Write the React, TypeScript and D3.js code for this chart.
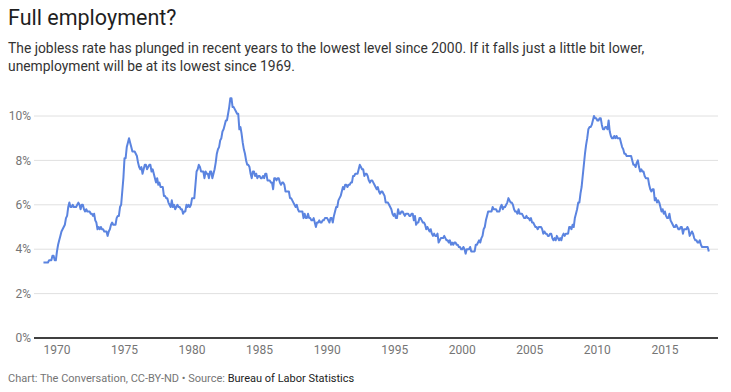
import React from "react";
import * as d3 from "d3";

const startYear = 1969;
// Monthly unemployment rate (%), Jan 1969 – Apr 2018
const rates: number[] = [
  // 1969
  3.4, 3.4, 3.4, 3.4, 3.4, 3.5, 3.5, 3.5, 3.7, 3.7, 3.5, 3.5,
  // 1970
  3.9, 4.2, 4.4, 4.6, 4.8, 4.9, 5.0, 5.1, 5.4, 5.5, 5.9, 6.1,
  // 1971
  5.9, 5.9, 6.0, 5.9, 5.9, 5.9, 6.0, 6.1, 6.0, 5.8, 6.0, 6.0,
  // 1972
  5.8, 5.7, 5.8, 5.7, 5.7, 5.7, 5.6, 5.6, 5.5, 5.6, 5.3, 5.2,
  // 1973
  4.9, 5.0, 4.9, 5.0, 4.9, 4.9, 4.8, 4.8, 4.8, 4.6, 4.8, 4.9,
  // 1974
  5.1, 5.2, 5.1, 5.1, 5.1, 5.4, 5.5, 5.5, 5.9, 6.0, 6.6, 7.2,
  // 1975
  8.1, 8.1, 8.6, 8.8, 9.0, 8.8, 8.6, 8.4, 8.4, 8.4, 8.3, 8.2,
  // 1976
  7.9, 7.7, 7.6, 7.7, 7.4, 7.6, 7.8, 7.8, 7.6, 7.7, 7.8, 7.8,
  // 1977
  7.5, 7.6, 7.4, 7.2, 7.0, 7.2, 6.9, 7.0, 6.8, 6.8, 6.8, 6.4,
  // 1978
  6.4, 6.3, 6.3, 6.1, 6.0, 5.9, 6.2, 5.9, 6.0, 5.8, 5.9, 6.0,
  // 1979
  5.9, 5.9, 5.8, 5.8, 5.6, 5.7, 5.7, 6.0, 5.9, 6.0, 5.9, 6.0,
  // 1980
  6.3, 6.3, 6.3, 6.9, 7.5, 7.6, 7.8, 7.7, 7.5, 7.5, 7.5, 7.2,
  // 1981
  7.5, 7.4, 7.4, 7.2, 7.5, 7.5, 7.2, 7.4, 7.6, 7.9, 8.3, 8.5,
  // 1982
  8.6, 8.9, 9.0, 9.3, 9.4, 9.6, 9.8, 9.8, 10.1, 10.4, 10.8, 10.8,
  // 1983
  10.4, 10.4, 10.3, 10.2, 10.1, 10.1, 9.4, 9.5, 9.2, 8.8, 8.5, 8.3,
  // 1984
  8.0, 7.8, 7.8, 7.7, 7.4, 7.2, 7.5, 7.5, 7.3, 7.4, 7.2, 7.3,
  // 1985
  7.3, 7.2, 7.2, 7.3, 7.2, 7.4, 7.4, 7.1, 7.1, 7.1, 7.0, 7.0,
  // 1986
  6.7, 7.2, 7.2, 7.1, 7.2, 7.2, 7.0, 6.9, 7.0, 7.0, 6.9, 6.6,
  // 1987
  6.6, 6.6, 6.6, 6.3, 6.3, 6.2, 6.1, 6.0, 5.9, 6.0, 5.8, 5.7,
  // 1988
  5.7, 5.7, 5.7, 5.4, 5.6, 5.4, 5.4, 5.6, 5.4, 5.4, 5.3, 5.3,
  // 1989
  5.4, 5.2, 5.0, 5.2, 5.2, 5.3, 5.2, 5.2, 5.3, 5.3, 5.4, 5.4,
  // 1990
  5.4, 5.3, 5.2, 5.4, 5.4, 5.2, 5.5, 5.7, 5.9, 5.9, 6.2, 6.3,
  // 1991
  6.4, 6.6, 6.8, 6.7, 6.9, 6.9, 6.8, 6.9, 6.9, 7.0, 7.0, 7.3,
  // 1992
  7.3, 7.4, 7.4, 7.4, 7.6, 7.8, 7.7, 7.6, 7.6, 7.3, 7.4, 7.4,
  // 1993
  7.3, 7.1, 7.0, 7.1, 7.1, 7.0, 6.9, 6.8, 6.7, 6.8, 6.6, 6.5,
  // 1994
  6.6, 6.6, 6.5, 6.4, 6.1, 6.1, 6.1, 6.0, 5.9, 5.8, 5.6, 5.5,
  // 1995
  5.6, 5.4, 5.4, 5.8, 5.6, 5.6, 5.7, 5.7, 5.6, 5.5, 5.6, 5.6,
  // 1996
  5.6, 5.5, 5.5, 5.6, 5.6, 5.3, 5.5, 5.1, 5.2, 5.2, 5.4, 5.4,
  // 1997
  5.3, 5.2, 5.2, 5.1, 4.9, 5.0, 4.9, 4.8, 4.9, 4.7, 4.6, 4.7,
  // 1998
  4.6, 4.6, 4.7, 4.3, 4.4, 4.5, 4.5, 4.5, 4.6, 4.5, 4.4, 4.4,
  // 1999
  4.3, 4.4, 4.2, 4.3, 4.2, 4.3, 4.3, 4.2, 4.2, 4.1, 4.1, 4.0,
  // 2000
  4.0, 4.1, 4.0, 3.8, 4.0, 4.0, 4.0, 4.1, 3.9, 3.9, 3.9, 3.9,
  // 2001
  4.2, 4.2, 4.3, 4.4, 4.3, 4.5, 4.6, 4.9, 5.0, 5.3, 5.5, 5.7,
  // 2002
  5.7, 5.7, 5.7, 5.9, 5.8, 5.8, 5.8, 5.7, 5.7, 5.7, 5.9, 6.0,
  // 2003
  5.8, 5.9, 5.9, 6.0, 6.1, 6.3, 6.2, 6.1, 6.1, 6.0, 5.8, 5.7,
  // 2004
  5.7, 5.6, 5.8, 5.6, 5.6, 5.6, 5.5, 5.4, 5.4, 5.5, 5.4, 5.4,
  // 2005
  5.3, 5.4, 5.2, 5.2, 5.1, 5.0, 5.0, 4.9, 5.0, 5.0, 5.0, 4.9,
  // 2006
  4.7, 4.8, 4.7, 4.7, 4.6, 4.6, 4.7, 4.7, 4.5, 4.4, 4.5, 4.4,
  // 2007
  4.6, 4.5, 4.4, 4.5, 4.4, 4.6, 4.7, 4.6, 4.7, 4.7, 4.7, 5.0,
  // 2008
  5.0, 4.9, 5.1, 5.0, 5.4, 5.6, 5.8, 6.1, 6.1, 6.5, 6.8, 7.3,
  // 2009
  7.8, 8.3, 8.7, 9.0, 9.4, 9.5, 9.5, 9.6, 9.8, 10.0, 9.9, 9.9,
  // 2010
  9.8, 9.8, 9.9, 9.9, 9.6, 9.4, 9.4, 9.5, 9.5, 9.4, 9.8, 9.3,
  // 2011
  9.1, 9.0, 9.0, 9.1, 9.0, 9.1, 9.0, 9.0, 9.0, 8.8, 8.6, 8.5,
  // 2012
  8.3, 8.3, 8.2, 8.2, 8.2, 8.2, 8.2, 8.0, 7.8, 7.8, 7.7, 7.9,
  // 2013
  8.0, 7.7, 7.5, 7.6, 7.5, 7.5, 7.3, 7.2, 7.2, 7.2, 6.9, 6.7,
  // 2014
  6.6, 6.7, 6.7, 6.2, 6.3, 6.1, 6.2, 6.1, 5.9, 5.7, 5.8, 5.6,
  // 2015
  5.7, 5.5, 5.4, 5.4, 5.6, 5.3, 5.2, 5.1, 5.0, 5.0, 5.1, 5.0,
  // 2016
  4.9, 4.9, 5.0, 5.0, 4.7, 4.9, 4.9, 4.9, 5.0, 4.9, 4.6, 4.7,
  // 2017
  4.8, 4.7, 4.5, 4.4, 4.4, 4.3, 4.3, 4.4, 4.2, 4.1, 4.1, 4.1,
  // 2018
  4.1, 4.1, 4.1, 3.9,
];

const yTicks = [0, 2, 4, 6, 8, 10];
const xTicks = [1970, 1975, 1980, 1985, 1990, 1995, 2000, 2005, 2010, 2015];

const title = "Full employment?";
const subtitle1 =
  "The jobless rate has plunged in recent years to the lowest level since 2000. If it falls just a little bit lower,";
const subtitle2 = "unemployment will be at its lowest since 1969.";

export default function App() {
  const W = 731;
  const H = 392;
  const left = 34;
  const right = 718;
  const x = d3.scaleLinear().domain([1968.3, 2018.93]).range([left, right]);
  const y = d3.scaleLinear().domain([0, 10]).range([338, 116]);

  const pts = rates.map((v, i) => [startYear + i / 12, v] as [number, number]);
  const line = d3
    .line<[number, number]>()
    .x((d) => x(d[0]))
    .y((d) => y(d[1]));

  const font = "Roboto, 'Noto Sans', sans-serif";

  return (
    <svg
      width={W}
      height={H}
      style={{ position: "absolute", left: 0, top: 0, background: "#fff" }}
      fontFamily={font}
    >
      <text x={8} y={25} fontSize={21.5} fill="#1f1f1f">
        {title}
      </text>
      <text x={8} y={53} fontSize={13.85} fill="#333">
        {subtitle1}
      </text>
      <text x={8} y={71} fontSize={13.85} fill="#333">
        {subtitle2}
      </text>

      {yTicks.map((t) => (
        <g key={t}>
          {t !== 0 && (
            <line x1={left} x2={right} y1={y(t)} y2={y(t)} stroke="#e0e0e0" strokeWidth={1} />
          )}
          <text
            x={31}
            y={y(t)}
            dy="0.35em"
            textAnchor="end"
            fontSize={12}
            fill="#757575"
          >
            {t}%
          </text>
        </g>
      ))}

      <path d={line(pts) || ""} fill="none" stroke="#5b84e0" strokeWidth={2} strokeLinejoin="round" />

      <line x1={left} x2={right} y1={y(0)} y2={y(0)} stroke="#000" strokeWidth={1.5} />

      {xTicks.map((t) => (
        <text key={t} x={x(t)} y={354} textAnchor="middle" fontSize={12} fill="#757575">
          {t}
        </text>
      ))}

      <text x={8} y={382} fontSize={11} fill="#757575">
        Chart: The Conversation, CC-BY-ND • Source: <tspan fill="#222">Bureau of Labor Statistics</tspan>
      </text>
    </svg>
  );
}
